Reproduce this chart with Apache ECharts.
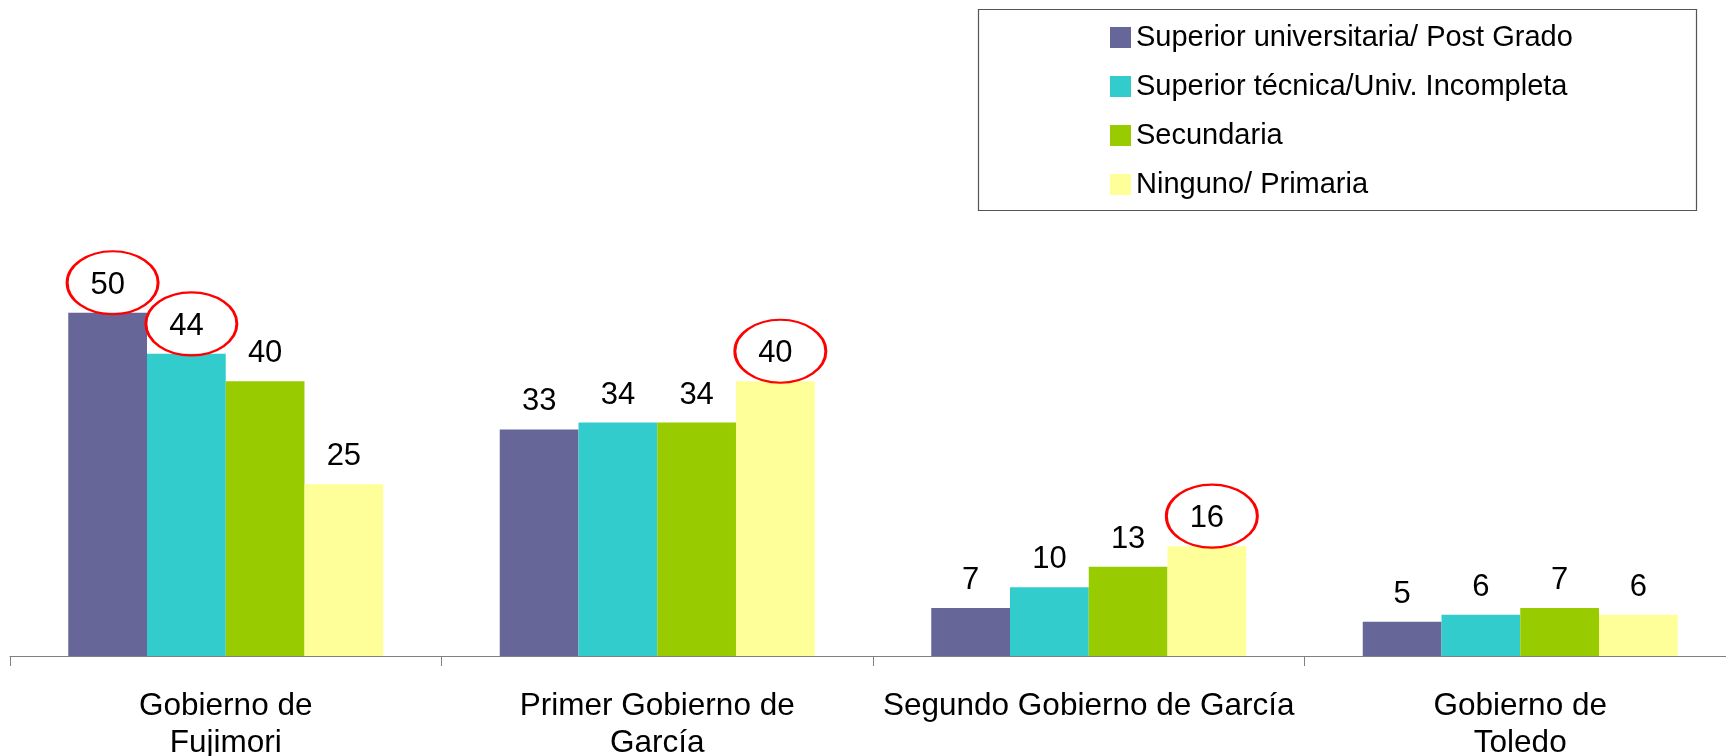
<!DOCTYPE html>
<html>
<head>
<meta charset="utf-8">
<script src="https://cdn.jsdelivr.net/npm/echarts@6/dist/echarts.min.js"></script>
<style>
  html, body { margin: 0; padding: 0; background: #fff; }
  #chart { width: 1726px; height: 756px; }
</style>
</head>
<body>
<div id="chart"></div>
<script>
const categories = [
  'Gobierno de\nFujimori',
  'Primer Gobierno de\nGarcía',
  'Segundo Gobierno de García',
  'Gobierno de\nToledo'
]
const seriesNames = [
  'Superior universitaria/ Post Grado',
  'Superior técnica/Univ. Incompleta',
  'Secundaria',
  'Ninguno/ Primaria'
]
const universitaria = [50, 33, 7, 5]
const tecnica = [44, 34, 10, 6]
const secundaria = [40, 34, 13, 7]
const primaria = [25, 40, 16, 6]
// which category each series circles in red
const circled = [[0], [0], [], [1, 2]]

const colors = ['#666699', '#33CCCC', '#99CC00', '#FFFF99']
const values = [universitaria, tecnica, secundaria, primaria]

const chart = echarts.init(document.getElementById('chart'))

const series = values.map((vals, i) => ({
  name: seriesNames[i],
  type: 'bar',
  data: vals,
  barGap: '0%',
  barCategoryGap: '27%',
  itemStyle: { color: colors[i] },
  label: {
    show: true,
    position: 'top',
    distance: 12,
    color: '#000',
    fontFamily: 'Liberation Sans, Arial, sans-serif',
    fontSize: 31
  },
  markPoint: {
    symbol: 'circle',
    symbolSize: [91, 63],
    symbolOffset: [5, -30],
    silent: true,
    label: { show: false },
    itemStyle: { color: 'rgba(0,0,0,0)', borderColor: '#FF0000', borderWidth: 2.5 },
    data: circled[i].map((c) => ({ coord: [c, vals[c]] }))
  }
}))

chart.setOption({
  backgroundColor: '#fff',
  animation: false,
  legend: {
    orient: 'vertical',
    left: 1105,
    top: 18,
    itemWidth: 21,
    itemHeight: 21,
    itemGap: 20,
    icon: 'rect',
    textStyle: {
      color: '#000',
      fontFamily: 'Liberation Sans, Arial, sans-serif',
      fontSize: 29,
      lineHeight: 29
    },
    data: seriesNames
  },
  graphic: [
    {
      type: 'rect',
      left: 976,
      top: 7,
      shape: { width: 718, height: 201 },
      style: { fill: 'none', stroke: '#555', lineWidth: 1.2 },
      z: -1
    }
  ],
  grid: { left: 10, top: 244, width: 1726, height: 412, outerBoundsMode: 'none', containLabel: false },
  xAxis: {
    type: 'category',
    data: categories,
    axisLine: { lineStyle: { color: '#808080', width: 1.2 } },
    axisTick: { show: true, length: 10, lineStyle: { color: '#808080' } },
    axisLabel: {
      color: '#000',
      margin: 32,
      fontFamily: 'Liberation Sans, Arial, sans-serif',
      fontSize: 31.5,
      lineHeight: 37,
      interval: 0
    }
  },
  yAxis: {
    type: 'value',
    min: 0,
    max: 60,
    show: false,
    splitLine: { show: false }
  },
  series
})
</script>
</body>
</html>
